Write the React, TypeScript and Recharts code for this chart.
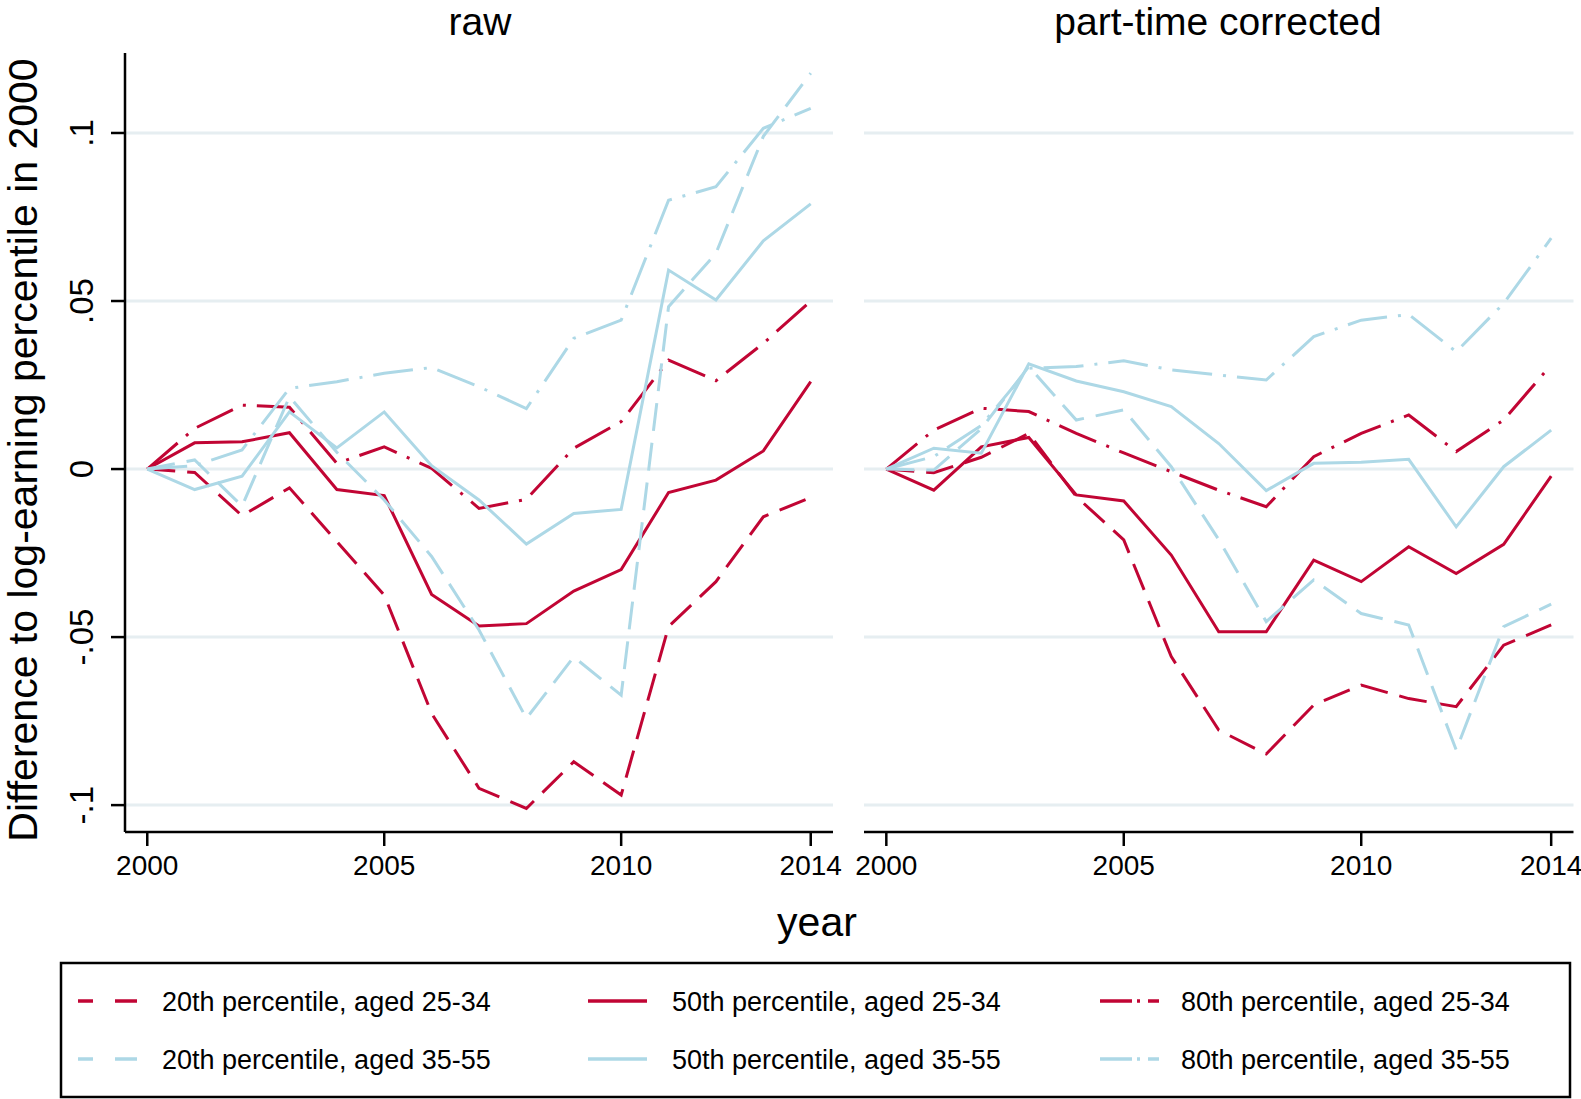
import { LineChart, Line, XAxis, YAxis, CartesianGrid } from 'recharts';

const years = [2000, 2001, 2002, 2003, 2004, 2005, 2006, 2007, 2008, 2009, 2010, 2011, 2012, 2013, 2014];

// raw panel
const rawP20Young = [0, -0.001, -0.0139, -0.0056, -0.0216, -0.0375, -0.0727, -0.095, -0.101, -0.0871, -0.097, -0.0469, -0.0335, -0.0142, -0.0085];
const rawP50Young = [0, 0.0078, 0.0081, 0.0108, -0.0061, -0.0079, -0.0373, -0.0467, -0.046, -0.0363, -0.0299, -0.007, -0.0033, 0.0054, 0.026];
const rawP80Young = [0, 0.0121, 0.019, 0.0184, 0.0017, 0.0066, 0.0002, -0.0117, -0.009, 0.0062, 0.0141, 0.0324, 0.0263, 0.0374, 0.05];
const rawP20Old = [0, 0.0027, -0.011, 0.0215, 0.005, -0.0092, -0.026, -0.0479, -0.0742, -0.0559, -0.0673, 0.0483, 0.0642, 0.099, 0.1178];
const rawP50Old = [0, -0.0061, -0.0021, 0.017, 0.0063, 0.017, 0.001, -0.0092, -0.0223, -0.0132, -0.012, 0.0592, 0.0503, 0.0679, 0.0789];
const rawP80Old = [0, 0.001, 0.0057, 0.024, 0.026, 0.0285, 0.0302, 0.0245, 0.018, 0.0389, 0.0443, 0.08, 0.084, 0.1014, 0.1073];

// part-time corrected panel
const ptcP20Young = [0, -0.0011, 0.0035, 0.0106, -0.0082, -0.0211, -0.0558, -0.0777, -0.0848, -0.0702, -0.0643, -0.0683, -0.0707, -0.0524, -0.0464];
const ptcP50Young = [0, -0.0063, 0.0066, 0.0094, -0.0077, -0.0095, -0.0256, -0.0484, -0.0484, -0.0271, -0.0335, -0.0231, -0.0311, -0.0224, -0.0021];
const ptcP80Young = [0, 0.0116, 0.0181, 0.0171, 0.0106, 0.0048, -0.0008, -0.0063, -0.0112, 0.0037, 0.0106, 0.0161, 0.0052, 0.0146, 0.031];
const ptcP20Old = [0, -0.0003, 0.012, 0.0305, 0.0146, 0.0176, 0.0007, -0.021, -0.0454, -0.033, -0.043, -0.0464, -0.0836, -0.0469, -0.0402];
const ptcP50Old = [0, 0.0062, 0.0047, 0.0313, 0.0262, 0.023, 0.0186, 0.0076, -0.0064, 0.0017, 0.002, 0.0029, -0.0172, 0.0007, 0.0116];
const ptcP80Old = [0, 0.0037, 0.013, 0.03, 0.0305, 0.0322, 0.0295, 0.028, 0.0265, 0.0394, 0.0443, 0.046, 0.0349, 0.0493, 0.0687];

const xTicks = [2000, 2005, 2010, 2014];
const yTicks = [-0.1, -0.05, 0, 0.05, 0.1];
const panelTitles = ['raw', 'part-time corrected'];
const seriesLabels = [
  '20th percentile, aged 25-34',
  '50th percentile, aged 25-34',
  '80th percentile, aged 25-34',
  '20th percentile, aged 35-55',
  '50th percentile, aged 35-55',
  '80th percentile, aged 35-55',
];

const RED = '#c10534';
const BLUE = '#add8e6';
const GRID = '#e6eef1';
const FONT = '"Liberation Sans", Arial, Helvetica, sans-serif';
const DASH = '28 12';
const DASH_DOT = '40 11 3 11';

const styles = [
  { key: 'p20y', color: RED, dash: DASH },
  { key: 'p50y', color: RED, dash: undefined },
  { key: 'p80y', color: RED, dash: DASH_DOT },
  { key: 'p20o', color: BLUE, dash: DASH },
  { key: 'p50o', color: BLUE, dash: undefined },
  { key: 'p80o', color: BLUE, dash: DASH_DOT },
];

function toRows(cols: number[][]) {
  return years.map((year, i) => {
    const row: Record<string, number> = { year };
    styles.forEach((s, j) => {
      row[s.key] = cols[j][i];
    });
    return row;
  });
}

const rawRows = toRows([rawP20Young, rawP50Young, rawP80Young, rawP20Old, rawP50Old, rawP80Old]);
const ptcRows = toRows([ptcP20Young, ptcP50Young, ptcP80Young, ptcP20Old, ptcP50Old, ptcP80Old]);

// stata style: .05, -.1, 0
const stataNum = (v: number) => (v === 0 ? '0' : String(v).replace('0.', '.'));

function YTick(props: any) {
  const { x, y, payload } = props;
  const tx = x - 16;
  return (
    <text x={tx} y={y} transform={`rotate(-90 ${tx} ${y})`} textAnchor="middle" fontSize={33} fontFamily={FONT} fill="#000">
      {stataNum(payload.value)}
    </text>
  );
}

function XTick(props: any) {
  const { x, y, payload } = props;
  return (
    <text x={x} y={y + 27} textAnchor="middle" fontSize={28} fontFamily={FONT} fill="#000">
      {payload.value}
    </text>
  );
}

const axisStroke = { stroke: '#000', strokeWidth: 2.5 };

function Panel({ rows, width, margin, showY }: { rows: any[]; width: number; margin: any; showY: boolean }) {
  return (
    <LineChart width={width} height={900} data={rows} margin={margin}>
      <CartesianGrid vertical={false} stroke={GRID} strokeWidth={3} horizontalValues={yTicks} />
      <XAxis
        dataKey="year"
        type="number"
        domain={[1999.53, 2014.47]}
        ticks={xTicks}
        allowDataOverflow
        interval={0}
        height={68}
        tickSize={14}
        axisLine={axisStroke}
        tickLine={axisStroke}
        tick={XTick}
      />
      <YAxis
        type="number"
        domain={[-0.108, 0.1238]}
        ticks={yTicks}
        allowDataOverflow
        interval={0}
        width={125}
        hide={!showY}
        tickSize={14}
        axisLine={axisStroke}
        tickLine={axisStroke}
        tick={YTick}
      />
      {styles.map((s) => (
        <Line
          key={s.key}
          type="linear"
          dataKey={s.key}
          stroke={s.color}
          strokeWidth={3}
          strokeDasharray={s.dash}
          dot={false}
          activeDot={false}
          isAnimationActive={false}
        />
      ))}
    </LineChart>
  );
}

const legendLineX = [78, 588, 1100];
const legendTextX = [162, 672, 1181];
const legendRowY = [1001, 1059];

export default function App() {
  return (
    <div style={{ position: 'absolute', left: 0, top: 0, width: 1581, height: 1099, background: '#fff', overflow: 'hidden' }}>
      <div style={{ position: 'absolute', left: 0, top: 0 }}>
        <Panel rows={rawRows} width={845} margin={{ top: 53, right: 12, left: 0, bottom: 0 }} showY />
      </div>
      <div style={{ position: 'absolute', left: 0, top: 0 }}>
        <Panel rows={ptcRows} width={1581} margin={{ top: 53, right: 7.5, left: 864, bottom: 0 }} showY={false} />
      </div>
      <svg width={1581} height={1099} style={{ position: 'absolute', left: 0, top: 0, pointerEvents: 'none' }} fontFamily={FONT}>
        <text x={480} y={35} textAnchor="middle" fontSize={39}>{panelTitles[0]}</text>
        <text x={1218} y={35} textAnchor="middle" fontSize={39}>{panelTitles[1]}</text>
        <text x={37} y={450} transform="rotate(-90 37 450)" textAnchor="middle" fontSize={41}>
          Difference to log-earning percentile in 2000
        </text>
        <text x={817} y={936} textAnchor="middle" fontSize={41}>year</text>
        <rect x={61} y={963} width={1509} height={134} fill="#fff" stroke="#000" strokeWidth={2.5} />
        {styles.map((s, i) => {
          const col = i % 3;
          const row = Math.floor(i / 3);
          const y = legendRowY[row];
          return (
            <g key={s.key}>
              <line x1={legendLineX[col]} x2={legendLineX[col] + 59} y1={y} y2={y} stroke={s.color} strokeWidth={3.5} strokeDasharray={s.dash === DASH ? '15 22 22' : s.dash === DASH_DOT ? '32 5 3 8 12' : undefined} />
              <text x={legendTextX[col]} y={y + 10} fontSize={27}>{seriesLabels[i]}</text>
            </g>
          );
        })}
      </svg>
    </div>
  );
}
